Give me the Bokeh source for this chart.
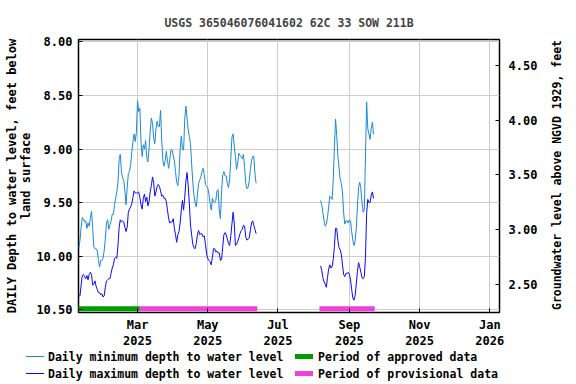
import pandas as pd
from bokeh.plotting import figure
from bokeh.layouts import column, row
from bokeh.models import Range1d, LinearAxis, FixedTicker, NumeralTickFormatter, Div
from bokeh.embed import file_html
from bokeh.resources import INLINE

title = "USGS 365046076041602 62C 33 SOW 211B"
left_label = "DAILY Depth to water level, feet below\nland surface"
right_label = "Groundwater level above NGVD 1929, feet"
legend_labels = ["Daily minimum depth to water level", "Daily maximum depth to water level",
                 "Period of approved data", "Period of provisional data"]

seg1_start = "2025-01-09"
seg1_min = [
    9.92, 9.85, 9.73, 9.64, 9.65, 9.68, 9.67, 9.74, 9.69, 9.72,
    9.65, 9.58, 9.73, 9.91, 9.93, 9.93, 9.95, 10.03, 10.10, 10.04,
    10.04, 10.02, 9.95, 9.84, 9.69, 9.66, 9.75, 9.71, 9.67, 9.61,
    9.61, 9.52, 9.46, 9.40, 9.31, 9.10, 9.05, 9.21, 9.27, 9.29,
    9.39, 9.52, 9.36, 9.23, 9.21, 9.15, 9.03, 8.93, 8.86, 8.93,
    8.84, 8.55, 8.65, 8.62, 8.93, 9.07, 8.96, 9.00, 8.92, 9.08,
    9.12, 9.00, 8.83, 8.71, 8.76, 8.90, 8.95, 8.81, 8.74, 8.79,
    8.79, 8.64, 8.92, 9.11, 9.16, 9.11, 9.02, 9.11, 9.18, 9.10,
    9.01, 9.01, 9.06, 9.11, 9.21, 9.31, 9.34, 9.25, 9.00, 8.88,
    9.00, 9.01, 8.72, 8.60, 8.71, 8.82, 8.89, 8.95, 9.14, 9.31,
    9.43, 9.50, 9.54, 9.43, 9.32, 9.29, 9.26, 9.21, 9.18, 9.24,
    9.33, 9.35, 9.36, 9.42, 9.51, 9.57, 9.46, 9.49, 9.50, 9.48,
    9.39, 9.38, 9.57, 9.65, 9.39, 9.24, 9.21, 9.25, 9.25, 9.32,
    9.36, 9.28, 9.09, 8.89, 8.86, 8.97, 9.07, 9.19, 9.13, 9.04,
    9.06, 9.07, 9.09, 9.05, 9.17, 9.32, 9.37, 9.36, 9.30, 9.19,
    9.11, 9.07, 9.07, 9.23, 9.32,
]
seg1_max = [
    10.37, 10.37, 10.27, 10.18, 10.17, 10.19, 10.21, 10.18, 10.22, 10.17,
    10.15, 10.17, 10.27, 10.26, 10.23, 10.28, 10.31, 10.34, 10.34, 10.36,
    10.35, 10.38, 10.37, 10.29, 10.23, 10.22, 10.21, 10.21, 10.16, 10.11,
    10.08, 10.02, 10.01, 10.02, 9.90, 9.73, 9.66, 9.68, 9.67, 9.68,
    9.73, 9.77, 9.73, 9.59, 9.56, 9.54, 9.51, 9.45, 9.39, 9.41,
    9.41, 9.41, 9.40, 9.45, 9.52, 9.56, 9.46, 9.42, 9.49, 9.45,
    9.53, 9.49, 9.40, 9.34, 9.26, 9.31, 9.44, 9.40, 9.35, 9.33,
    9.35, 9.39, 9.44, 9.43, 9.46, 9.46, 9.49, 9.57, 9.65, 9.69,
    9.68, 9.68, 9.65, 9.74, 9.80, 9.87, 9.80, 9.77, 9.69, 9.57,
    9.48, 9.57, 9.45, 9.30, 9.22, 9.34, 9.51, 9.71, 9.80, 9.89,
    9.92, 9.93, 9.88, 9.80, 9.76, 9.80, 9.79, 9.79, 9.82, 9.81,
    9.89, 9.98, 10.02, 10.04, 10.05, 10.08, 10.01, 9.93, 9.93, 9.96,
    9.95, 9.97, 9.97, 10.04, 10.03, 9.91, 9.80, 9.78, 9.80, 9.84,
    9.88, 9.90, 9.81, 9.70, 9.59, 9.69, 9.90, 9.89, 9.86, 9.83,
    9.79, 9.76, 9.75, 9.71, 9.72, 9.82, 9.85, 9.84, 9.83, 9.76,
    9.69, 9.67, 9.71, 9.75, 9.79,
]
seg2_start = "2025-08-07"
seg2_min = [
    9.48, 9.52, 9.59, 9.67, 9.72, 9.70, 9.64, 9.54, 9.44, 9.45,
    9.47, 9.29, 8.98, 8.72, 8.87, 9.06, 9.17, 9.28, 9.32, 9.40,
    9.59, 9.70, 9.67, 9.67, 9.69, 9.66, 9.67, 9.77, 9.85, 9.90,
    9.86, 9.74, 9.54, 9.36, 9.31, 9.37, 9.50, 9.59, 9.56, 9.07,
    8.56, 8.81, 8.86, 8.91, 8.81, 8.75, 8.86,
]
seg2_max = [
    10.09, 10.13, 10.20, 10.24, 10.26, 10.29, 10.20, 10.12, 10.08, 10.11,
    10.10, 10.03, 9.91, 9.74, 9.74, 9.85, 9.92, 9.94, 9.98, 10.08,
    10.17, 10.19, 10.16, 10.16, 10.15, 10.17, 10.22, 10.31, 10.39, 10.41,
    10.37, 10.26, 10.14, 10.06, 10.10, 10.15, 10.20, 10.21, 10.19, 10.01,
    9.60, 9.47, 9.50, 9.50, 9.43, 9.40, 9.46,
]

approved_periods = [("2025-01-08", "2025-03-03")]
provisional_periods = [("2025-03-03", "2025-06-13"), ("2025-08-06", "2025-09-23")]
period_depth = 10.49

x_tick_dates = ["2025-03-01", "2025-05-01", "2025-07-01", "2025-09-01", "2025-11-01", "2026-01-01"]
x_tick_labels = ["Mar\n2025", "May\n2025", "Jul\n2025", "Sep\n2025", "Nov\n2025", "Jan\n2026"]
left_ticks = [8.0, 8.5, 9.0, 9.5, 10.0, 10.5]
right_ticks = [2.5, 3.0, 3.5, 4.0, 4.5]

MIN_COLOR = "#1a8ad4"
MAX_COLOR = "#0a0af0"
APPROVED_COLOR = "#009c00"
PROV_COLOR = "#f23fe0"
FONT = "DejaVu Sans Mono"

p = figure(width=548, height=351, x_axis_type="datetime", output_backend="svg",
           toolbar_location=None,
           x_range=Range1d(pd.Timestamp("2025-01-08 17:00"), pd.Timestamp("2026-01-09 10:00")),
           y_range=Range1d(10.525, 7.978),
           min_border_left=78, min_border_right=49, min_border_top=39, min_border_bottom=39)
p.extra_y_ranges = {"ngvd": Range1d(2.244, 4.737)}

def dates(start, n):
    return pd.date_range(start, periods=n, freq="D")

d1 = dates(seg1_start, len(seg1_min))
d2 = dates(seg2_start, len(seg2_min))

p.line(d1, seg1_min, color=MIN_COLOR, line_width=1)
p.line(d2, seg2_min, color=MIN_COLOR, line_width=1)
p.line(d1, seg1_max, color=MAX_COLOR, line_width=1)
p.line(d2, seg2_max, color=MAX_COLOR, line_width=1)

for s, e in approved_periods:
    p.line([pd.Timestamp(s), pd.Timestamp(e)], [period_depth, period_depth],
           color=APPROVED_COLOR, line_width=5)
for s, e in provisional_periods:
    p.line([pd.Timestamp(s), pd.Timestamp(e)], [period_depth, period_depth],
           color=PROV_COLOR, line_width=5)

# axes
tick_ms = [pd.Timestamp(d).value / 1e6 for d in x_tick_dates]
xa = p.xaxis[0]
xa.ticker = FixedTicker(ticks=tick_ms)
xa.major_label_overrides = {t: l for t, l in zip(tick_ms, x_tick_labels)}
p.xgrid.ticker = FixedTicker(ticks=tick_ms)

ya = p.yaxis[0]
ya.ticker = FixedTicker(ticks=left_ticks)
ya.formatter = NumeralTickFormatter(format="0.00")
ya.axis_label = left_label

ra = LinearAxis(y_range_name="ngvd", ticker=FixedTicker(ticks=right_ticks),
                formatter=NumeralTickFormatter(format="0.00"))
p.add_layout(ra, "right")

for ax in [xa, ya, ra]:
    ax.major_label_text_font = FONT
    ax.major_label_text_font_style = "bold"
    ax.major_label_text_font_size = "12px"
    ax.major_label_text_color = "black"
    ax.axis_label_text_font = FONT
    ax.axis_label_text_font_style = "bold"
    ax.axis_label_text_font_size = "11.5px"
    ax.axis_label_text_color = "black"
    ax.major_tick_in = 4
    ax.major_tick_out = 0
    ax.minor_tick_in = 0
    ax.minor_tick_out = 0
    ax.major_tick_line_color = "black"
    ax.axis_line_color = None
    ax.major_label_standoff = 7
xa.major_label_standoff = 5
ya.major_label_standoff = 6
ra.major_label_standoff = 9
ya.axis_label_text_font_size = "12px"
ya.axis_label_text_line_height = 1.05
ya.axis_label_standoff = 0

p.grid.grid_line_color = "#cccccc"
p.grid.grid_line_width = 1
p.outline_line_color = "black"
p.outline_line_width = 1.5
p.background_fill_color = "white"
p.border_fill_color = "white"

p.title.text = title
p.title.align = "center"
p.title.text_font = FONT
p.title.text_font_style = "bold"
p.title.text_font_size = "11.5px"
p.title.standoff = 20

# right-hand axis title (rotated, reads bottom to top)
right_html = (f'<div style="position:relative;width:28px;height:351px;background:white">'
              f'<div style="position:absolute;left:9px;top:175px;white-space:nowrap;'
              f'font-family:\'{FONT}\';font-weight:bold;font-size:11.5px;color:black;'
              f'line-height:14px;transform:translate(-50%,-50%) rotate(-90deg)">'
              f'{right_label}</div></div>')
right_div = Div(text=right_html, width=28, height=351, margin=(0, 0, 0, 0))

# legend strip (HTML) below the plot
def sample(left, top, h, color):
    return (f'<div style="position:absolute;left:{left}px;top:{top}px;width:18px;'
            f'height:{h}px;background:{color}"></div>')

def label(left, top, text):
    return (f'<div style="position:absolute;left:{left}px;top:{top}px;line-height:12px;'
            f'white-space:nowrap">{text}</div>')

html = (f'<div style="position:relative;width:576px;height:33px;font-family:\'{FONT}\';'
        f'font-weight:bold;font-size:11.5px;color:black;background:white">'
        + sample(26, 5, 1, MIN_COLOR) + label(48, 0, legend_labels[0])
        + sample(26, 22, 1, MAX_COLOR) + label(48, 17, legend_labels[1])
        + sample(295, 3, 5, APPROVED_COLOR) + label(318, 0, legend_labels[2])
        + sample(295, 20, 5, PROV_COLOR) + label(318, 17, legend_labels[3])
        + '</div>')
legend_div = Div(text=html, width=576, height=33, margin=(0, 0, 0, 0))

layout = column(row(p, right_div, spacing=0), legend_div, spacing=0)
open("out.html", "w").write(file_html(layout, INLINE))
